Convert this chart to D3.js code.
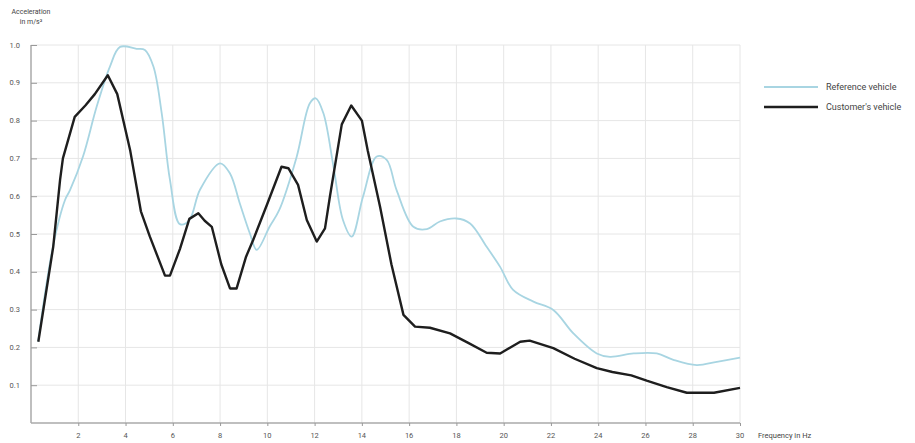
<!DOCTYPE html>
<html><head><meta charset="utf-8">
<script src="https://cdn.jsdelivr.net/npm/d3@7"></script>
<style>body{margin:0;background:#fff;} svg{display:block;} text{font-family:"Liberation Sans Narrow","Roboto",sans-serif;}</style>
</head><body><svg id="c" width="915" height="443"></svg>
<script>
const xTicks = [2,4,6,8,10,12,14,16,18,20,22,24,26,28,30];
const yTicks = [0.1,0.2,0.3,0.4,0.5,0.6,0.7,0.8,0.9,1.0];
const seriesNames = ["Reference vehicle","Customer's vehicle"];
const refX = [0.3,0.94,1.44,1.65,2.2,2.78,3.34,3.77,4.47,4.82,5.18,5.53,5.88,6.3,6.7,7.15,8.0,8.42,8.84,9.27,9.55,10.1,10.5,11.24,11.8,12.05,12.37,12.8,13.2,13.57,14.05,14.63,15.05,15.47,16.18,16.75,17.3,18.0,18.58,19.28,19.85,20.4,21.26,22.1,22.95,23.94,24.5,25.5,26.48,27.18,28.17,29.02,30];
const refY = [0.215,0.47,0.59,0.616,0.705,0.837,0.943,0.995,0.99,0.987,0.943,0.82,0.643,0.526,0.537,0.617,0.687,0.66,0.58,0.5,0.458,0.52,0.563,0.704,0.846,0.859,0.82,0.678,0.537,0.493,0.599,0.705,0.696,0.616,0.519,0.513,0.533,0.541,0.528,0.466,0.413,0.352,0.321,0.299,0.237,0.184,0.175,0.184,0.184,0.167,0.153,0.162,0.173];
const custX = [0.31,0.94,1.23,1.35,1.85,2.3,2.7,3.25,3.65,4.2,4.65,5.03,5.67,5.88,6.3,6.7,7.08,7.35,7.65,8.05,8.42,8.7,9.1,9.4,10.0,10.6,10.89,11.3,11.67,12.09,12.44,12.65,13.15,13.55,14.0,14.25,14.77,15.25,15.76,16.25,16.88,17.73,18.5,19.28,19.85,20.7,21.1,22.1,23.0,23.94,24.6,25.4,26.05,26.9,27.75,28.9,30];
const custY = [0.215,0.466,0.643,0.7,0.81,0.84,0.87,0.92,0.87,0.72,0.56,0.493,0.39,0.39,0.46,0.54,0.555,0.535,0.519,0.42,0.356,0.356,0.44,0.484,0.58,0.678,0.674,0.63,0.537,0.48,0.515,0.6,0.79,0.84,0.8,0.72,0.572,0.42,0.286,0.255,0.252,0.237,0.212,0.186,0.184,0.215,0.218,0.198,0.17,0.145,0.135,0.126,0.112,0.095,0.08,0.08,0.093];

const svg = d3.select("#c");
const x = d3.scaleLinear().domain([0,30]).range([31,740]);
const y = d3.scaleLinear().domain([0,1]).range([423,45]);

// grid
svg.append("g").selectAll("line").data(yTicks).join("line")
  .attr("x1",x(0)).attr("x2",x(30)).attr("y1",d=>y(d)).attr("y2",d=>y(d))
  .attr("stroke","#e6e6e6").attr("stroke-width",1);
svg.append("g").selectAll("line").data(xTicks).join("line")
  .attr("x1",d=>x(d)).attr("x2",d=>x(d)).attr("y1",y(0)).attr("y2",y(1))
  .attr("stroke","#e6e6e6").attr("stroke-width",1);

// axes
const yAxis = d3.axisRight(y).tickValues(yTicks).tickSize(6).tickFormat("");
const gy = svg.append("g").attr("transform",`translate(${x(0)},0)`).call(yAxis);
gy.select(".domain").attr("stroke","#aaa").attr("stroke-width",1.5).attr("d",`M0,${y(0)}V${y(1)}`);
gy.selectAll(".tick line").attr("stroke","#999");
const xAxis = d3.axisBottom(x).tickValues(xTicks).tickSize(3).tickFormat("");
const gx = svg.append("g").attr("transform",`translate(0,${y(0)})`).call(xAxis);
gx.select(".domain").attr("stroke","#aaa").attr("stroke-width",1.5).attr("d",`M${x(0)},0H${x(30)}`);
gx.selectAll(".tick line").attr("stroke","#999");

svg.append("g").selectAll("text").data(yTicks).join("text")
  .attr("x",20).attr("y",d=>y(d)+2.5).attr("text-anchor","end")
  .attr("font-size",7.5).attr("fill","#555").text(d=>d.toFixed(1));
svg.append("g").selectAll("text").data(xTicks).join("text")
  .attr("x",d=>x(d)).attr("y",438).attr("text-anchor","middle")
  .attr("font-size",7.5).attr("fill","#555").text(d=>d);

svg.append("text").attr("x",31).attr("y",14).attr("text-anchor","middle").attr("font-size",7).attr("fill","#444").text("Acceleration");
svg.append("text").attr("x",31).attr("y",24).attr("text-anchor","middle").attr("font-size",7).attr("fill","#444").text("in m/s²");
svg.append("text").attr("x",758).attr("y",438).attr("font-size",7.5).attr("fill","#444").text("Frequency in Hz");

const line = d3.line().x(d=>x(d[0])).y(d=>y(d[1]));
svg.append("path").datum(refX.map((v,i)=>[v,refY[i]]))
  .attr("d",line.curve(d3.curveCatmullRom.alpha(0.5))).attr("fill","none")
  .attr("stroke","#a8d5e2").attr("stroke-width",1.8);
svg.append("path").datum(custX.map((v,i)=>[v,custY[i]]))
  .attr("d",d3.line().x(d=>x(d[0])).y(d=>y(d[1])).curve(d3.curveLinear)).attr("fill","none")
  .attr("stroke","#1e1e1e").attr("stroke-width",2.4).attr("stroke-linejoin","round");

// legend
const lg = svg.append("g");
const colors = ["#a8d5e2","#1e1e1e"], widths=[1.8,2.6];
seriesNames.forEach((n,i)=>{
  const yy = 87 + i*20;
  lg.append("line").attr("x1",764).attr("x2",818).attr("y1",yy).attr("y2",yy).attr("stroke",colors[i]).attr("stroke-width",widths[i]);
  lg.append("text").attr("x",826).attr("y",yy+3).attr("font-size",9).attr("fill","#444").text(n);
});
</script></body></html>
